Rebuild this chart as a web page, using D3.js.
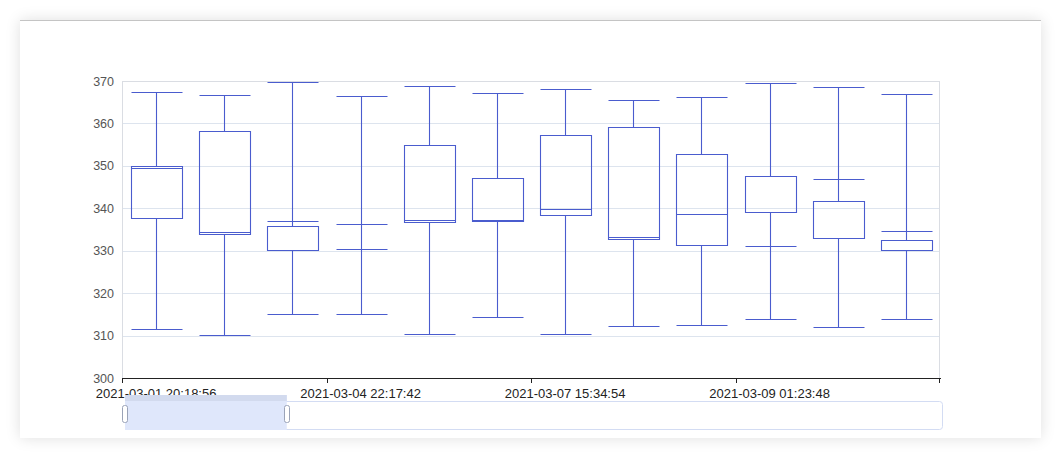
<!DOCTYPE html>
<html>
<head>
<meta charset="utf-8">
<script src="https://cdn.jsdelivr.net/npm/d3@7"></script>
<style>
  body { margin: 0; background: #fff; font-family: "Liberation Sans", Arial, sans-serif; }
  #card {
    position: absolute; left: 20px; top: 20px; width: 1021px; height: 417px;
    background: #fff; border-top: 1px solid #c4c4c4;
    box-shadow: 0 0 14px rgba(0,0,0,0.13);
  }
  #app { position: absolute; left: 0; top: 0; }
</style>
</head>
<body>
<div id="card"></div>
<div id="app"></div>
<script>
// categories (x) and box values
const times = [
  '2021-03-01 20:18:56', '2021-03-02 14:05:31', '2021-03-03 09:42:17',
  '2021-03-04 22:17:42', '2021-03-05 11:36:08', '2021-03-06 07:51:25',
  '2021-03-07 15:34:54', '2021-03-08 03:12:39', '2021-03-08 17:48:06',
  '2021-03-09 01:23:48', '2021-03-09 19:07:22', '2021-03-10 12:55:13'
];
const low    = [311.5, 310.2, 315.1, 315.1, 310.3, 314.3, 310.4, 312.2, 312.6, 313.8, 312.0, 313.8];
const q1     = [337.7, 333.9, 330.1, 336.3, 336.7, 336.9, 338.5, 332.7, 331.4, 339.1, 333.0, 330.2];
const median = [349.4, 334.3, 336.9, 330.4, 337.3, 337.2, 339.8, 333.2, 338.6, 331.2, 347.0, 334.6];
const q3     = [349.9, 358.1, 335.8, 336.3, 354.8, 347.1, 357.2, 359.2, 352.7, 347.5, 341.6, 332.5];
const high   = [367.5, 366.7, 369.7, 366.5, 368.9, 367.1, 368.1, 365.5, 366.2, 369.6, 368.7, 367.0];
const yTicks = [300, 310, 320, 330, 340, 350, 360, 370];
const labelEvery = 3;
const sliderRange = [0, 0.198];

const data = times.map((t, i) => ({
  t, low: low[i], q1: q1[i], median: median[i], q3: q3[i], high: high[i]
}));

const W = 1061, H = 457;
const plot = {left: 122, right: 940, top: 81, bottom: 378};
const color = '#4a5cce';

const svg = d3.select('#app').append('svg')
  .attr('width', W).attr('height', H);

const x = d3.scaleBand().domain(times).range([plot.left, plot.right]);
const y = d3.scaleLinear().domain([300, 370]).range([plot.bottom, plot.top]);

// grid
svg.append('g')
  .selectAll('line')
  .data(yTicks.slice(1))
  .join('line')
  .attr('x1', plot.left).attr('x2', plot.right)
  .attr('y1', d => Math.round(y(d)) + 0.5).attr('y2', d => Math.round(y(d)) + 0.5)
  .attr('stroke', '#dde4ee');

// plot frame
svg.append('rect')
  .attr('x', plot.left + 0.5).attr('y', plot.top + 0.5)
  .attr('width', plot.right - plot.left - 1).attr('height', plot.bottom - plot.top)
  .attr('fill', 'none').attr('stroke', '#dadde3');

// y labels
svg.append('g')
  .selectAll('text')
  .data(yTicks)
  .join('text')
  .attr('x', 114).attr('y', d => y(d) + 4.5)
  .attr('text-anchor', 'end')
  .attr('font-size', 12.5).attr('fill', '#555')
  .text(d => d);

// boxes
const bw = x.bandwidth() * 0.735;
const px = v => Math.round(v) + 0.5;
const boxes = svg.append('g').attr('fill', 'none').attr('stroke', color).attr('stroke-width', 1.1);
data.forEach(d => {
  const c = px(x(d.t) + x.bandwidth() / 2);
  const x0 = px(c - bw / 2), x1 = px(c + bw / 2);
  const yl = px(y(d.low)), yq1 = px(y(d.q1)), ym = px(y(d.median)), yq3 = px(y(d.q3)), yh = px(y(d.high));
  const p = d3.path();
  p.moveTo(x0, yh); p.lineTo(x1, yh);
  p.moveTo(c, yh); p.lineTo(c, yq3);
  p.moveTo(x0, yq3); p.lineTo(x0, yq1); p.lineTo(x1, yq1); p.lineTo(x1, yq3); p.closePath();
  p.moveTo(x0, ym); p.lineTo(x1, ym);
  p.moveTo(c, yq1); p.lineTo(c, yl);
  p.moveTo(x0, yl); p.lineTo(x1, yl);
  boxes.append('path').attr('d', p.toString());
});

// x axis
const xAxis = svg.append('g');
xAxis.append('line')
  .attr('x1', plot.left).attr('x2', plot.right + 1)
  .attr('y1', plot.bottom + 0.5).attr('y2', plot.bottom + 0.5)
  .attr('stroke', '#222');
const tickIdx = times.map((t, i) => i).filter(i => i % labelEvery === 0);
xAxis.selectAll('line.tick')
  .data(tickIdx.map(i => x(times[i])).concat([plot.right]))
  .join('line').attr('class', 'tick')
  .attr('x1', d => px(d) - (d === plot.right ? 1 : 0)).attr('x2', d => px(d) - (d === plot.right ? 1 : 0))
  .attr('y1', plot.bottom).attr('y2', plot.bottom + 5)
  .attr('stroke', '#222');
xAxis.selectAll('text')
  .data(tickIdx)
  .join('text')
  .attr('x', i => x(times[i]) + x.bandwidth() / 2)
  .attr('y', 397.5)
  .attr('text-anchor', 'middle')
  .attr('font-size', 13).attr('fill', '#222')
  .text(i => times[i]);

// slider
const sx = d3.scaleLinear().domain([0, 1]).range([125, 942]);
const slider = svg.append('g');
slider.append('rect')
  .attr('x', sx(0) + 0.5).attr('y', 401.5)
  .attr('width', sx(1) - sx(0)).attr('height', 28)
  .attr('rx', 3).attr('fill', '#fff').attr('stroke', '#d3dcf3');
slider.append('rect')
  .attr('x', sx(sliderRange[0])).attr('y', 395)
  .attr('width', sx(sliderRange[1]) - sx(sliderRange[0])).attr('height', 35)
  .attr('fill', '#dfe7fb');
slider.append('rect')
  .attr('x', sx(sliderRange[0])).attr('y', 395)
  .attr('width', sx(sliderRange[1]) - sx(sliderRange[0])).attr('height', 6)
  .attr('fill', '#d2daee');
slider.selectAll('rect.handle')
  .data(sliderRange)
  .join('rect').attr('class', 'handle')
  .attr('x', d => Math.round(sx(d)) - 2.5).attr('y', 405.5)
  .attr('width', 5).attr('height', 17).attr('rx', 2)
  .attr('fill', '#fff').attr('stroke', '#9aa3b8');
</script>
</body>
</html>
